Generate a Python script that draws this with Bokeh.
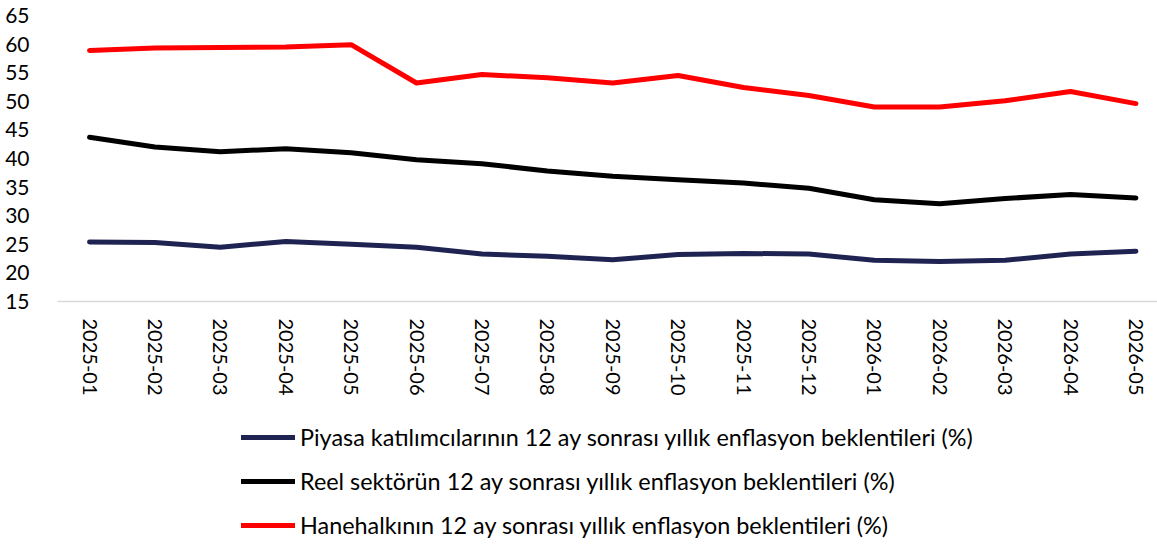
import math
from bokeh.plotting import figure
from bokeh.layouts import column
from bokeh.models import Range1d, Legend, LegendItem, FixedTicker
from bokeh.embed import file_html
from bokeh.resources import INLINE

months = ["2025-01", "2025-02", "2025-03", "2025-04", "2025-05", "2025-06",
          "2025-07", "2025-08", "2025-09", "2025-10", "2025-11", "2025-12",
          "2026-01", "2026-02", "2026-03", "2026-04", "2026-05"]
piyasa = [25.4, 25.3, 24.5, 25.5, 25.0, 24.5, 23.3, 22.9, 22.3, 23.2, 23.4, 23.3,
          22.2, 22.0, 22.2, 23.3, 23.8]
reel = [43.7, 42.0, 41.2, 41.7, 41.0, 39.8, 39.1, 37.8, 36.9, 36.3, 35.7, 34.8,
        32.8, 32.1, 33.0, 33.7, 33.1]
hane = [58.9, 59.3, 59.4, 59.5, 59.9, 53.2, 54.7, 54.1, 53.2, 54.5, 52.4, 51.0,
        49.0, 49.0, 50.1, 51.7, 49.6]
y_ticks = [15, 20, 25, 30, 35, 40, 45, 50, 55, 60, 65]
labels = ["Piyasa katılımcılarının 12 ay sonrası yıllık enflasyon beklentileri (%)",
          "Reel sektörün 12 ay sonrası yıllık enflasyon beklentileri (%)",
          "Hanehalkının 12 ay sonrası yıllık enflasyon beklentileri (%)"]
colors = ["#1f2352", "#000000", "#ff0000"]

FONT = "Lato"
xs = list(range(len(months)))
all_series = [piyasa, reel, hane]

p = figure(width=1157, height=410, output_backend="svg", toolbar_location=None,
           x_range=Range1d(-0.49, 16.33), y_range=Range1d(15, 65),
           min_border_left=57, min_border_right=0, min_border_top=15,
           min_border_bottom=109)
p.outline_line_color = None
p.xgrid.grid_line_color = None
p.ygrid.grid_line_color = None

for series, c in zip(all_series, colors):
    p.line(xs, series, line_color=c, line_width=5, line_cap="round",
           line_join="round")

p.xaxis.ticker = FixedTicker(ticks=xs)
p.xaxis.major_label_overrides = {i: m for i, m in enumerate(months)}
p.xaxis.major_label_orientation = -math.pi / 2
p.xaxis.major_tick_line_color = None
p.xaxis.minor_tick_line_color = None
p.xaxis.axis_line_color = "#d9d9d9"
p.xaxis.axis_line_width = 1.5
p.xaxis.major_label_standoff = 11
p.xaxis.major_label_text_font = FONT
p.xaxis.major_label_text_font_size = "20px"
p.xaxis.major_label_text_color = "#000000"

p.yaxis.ticker = FixedTicker(ticks=y_ticks)
p.yaxis.axis_line_color = None
p.yaxis.major_tick_line_color = None
p.yaxis.minor_tick_line_color = None
p.yaxis.major_label_standoff = 22
p.yaxis.major_label_text_font = FONT
p.yaxis.major_label_text_font_size = "21px"
p.yaxis.major_label_text_color = "#000000"

# legend panel below the chart (hidden copies of the series supply the legend glyphs)
q = figure(width=1157, height=134, output_backend="svg", toolbar_location=None,
           x_axis_type=None, y_axis_type=None, x_range=Range1d(0, 1), y_range=Range1d(0, 1),
           min_border_left=0, min_border_right=0, min_border_top=0, min_border_bottom=0)
q.outline_line_color = None
q.xgrid.grid_line_color = None
q.ygrid.grid_line_color = None
items = []
for lab, series, c in zip(labels, all_series, colors):
    r = q.line(xs, series, line_color=c, line_width=5, line_cap="round", visible=False)
    items.append(LegendItem(label=lab, renderers=[r]))

legend = Legend(items=items, location=(184, 5), orientation="vertical",
                glyph_width=54, glyph_height=28, label_height=28, spacing=16,
                label_standoff=5, padding=0, margin=0,
                border_line_color=None, background_fill_alpha=0,
                inactive_fill_alpha=0,
                label_text_font=FONT, label_text_font_size="23.4px",
                label_text_color="#000000")
q.add_layout(legend, "center")

layout = column(p, q, spacing=0)
open("out.html", "w").write(file_html(layout, INLINE))
